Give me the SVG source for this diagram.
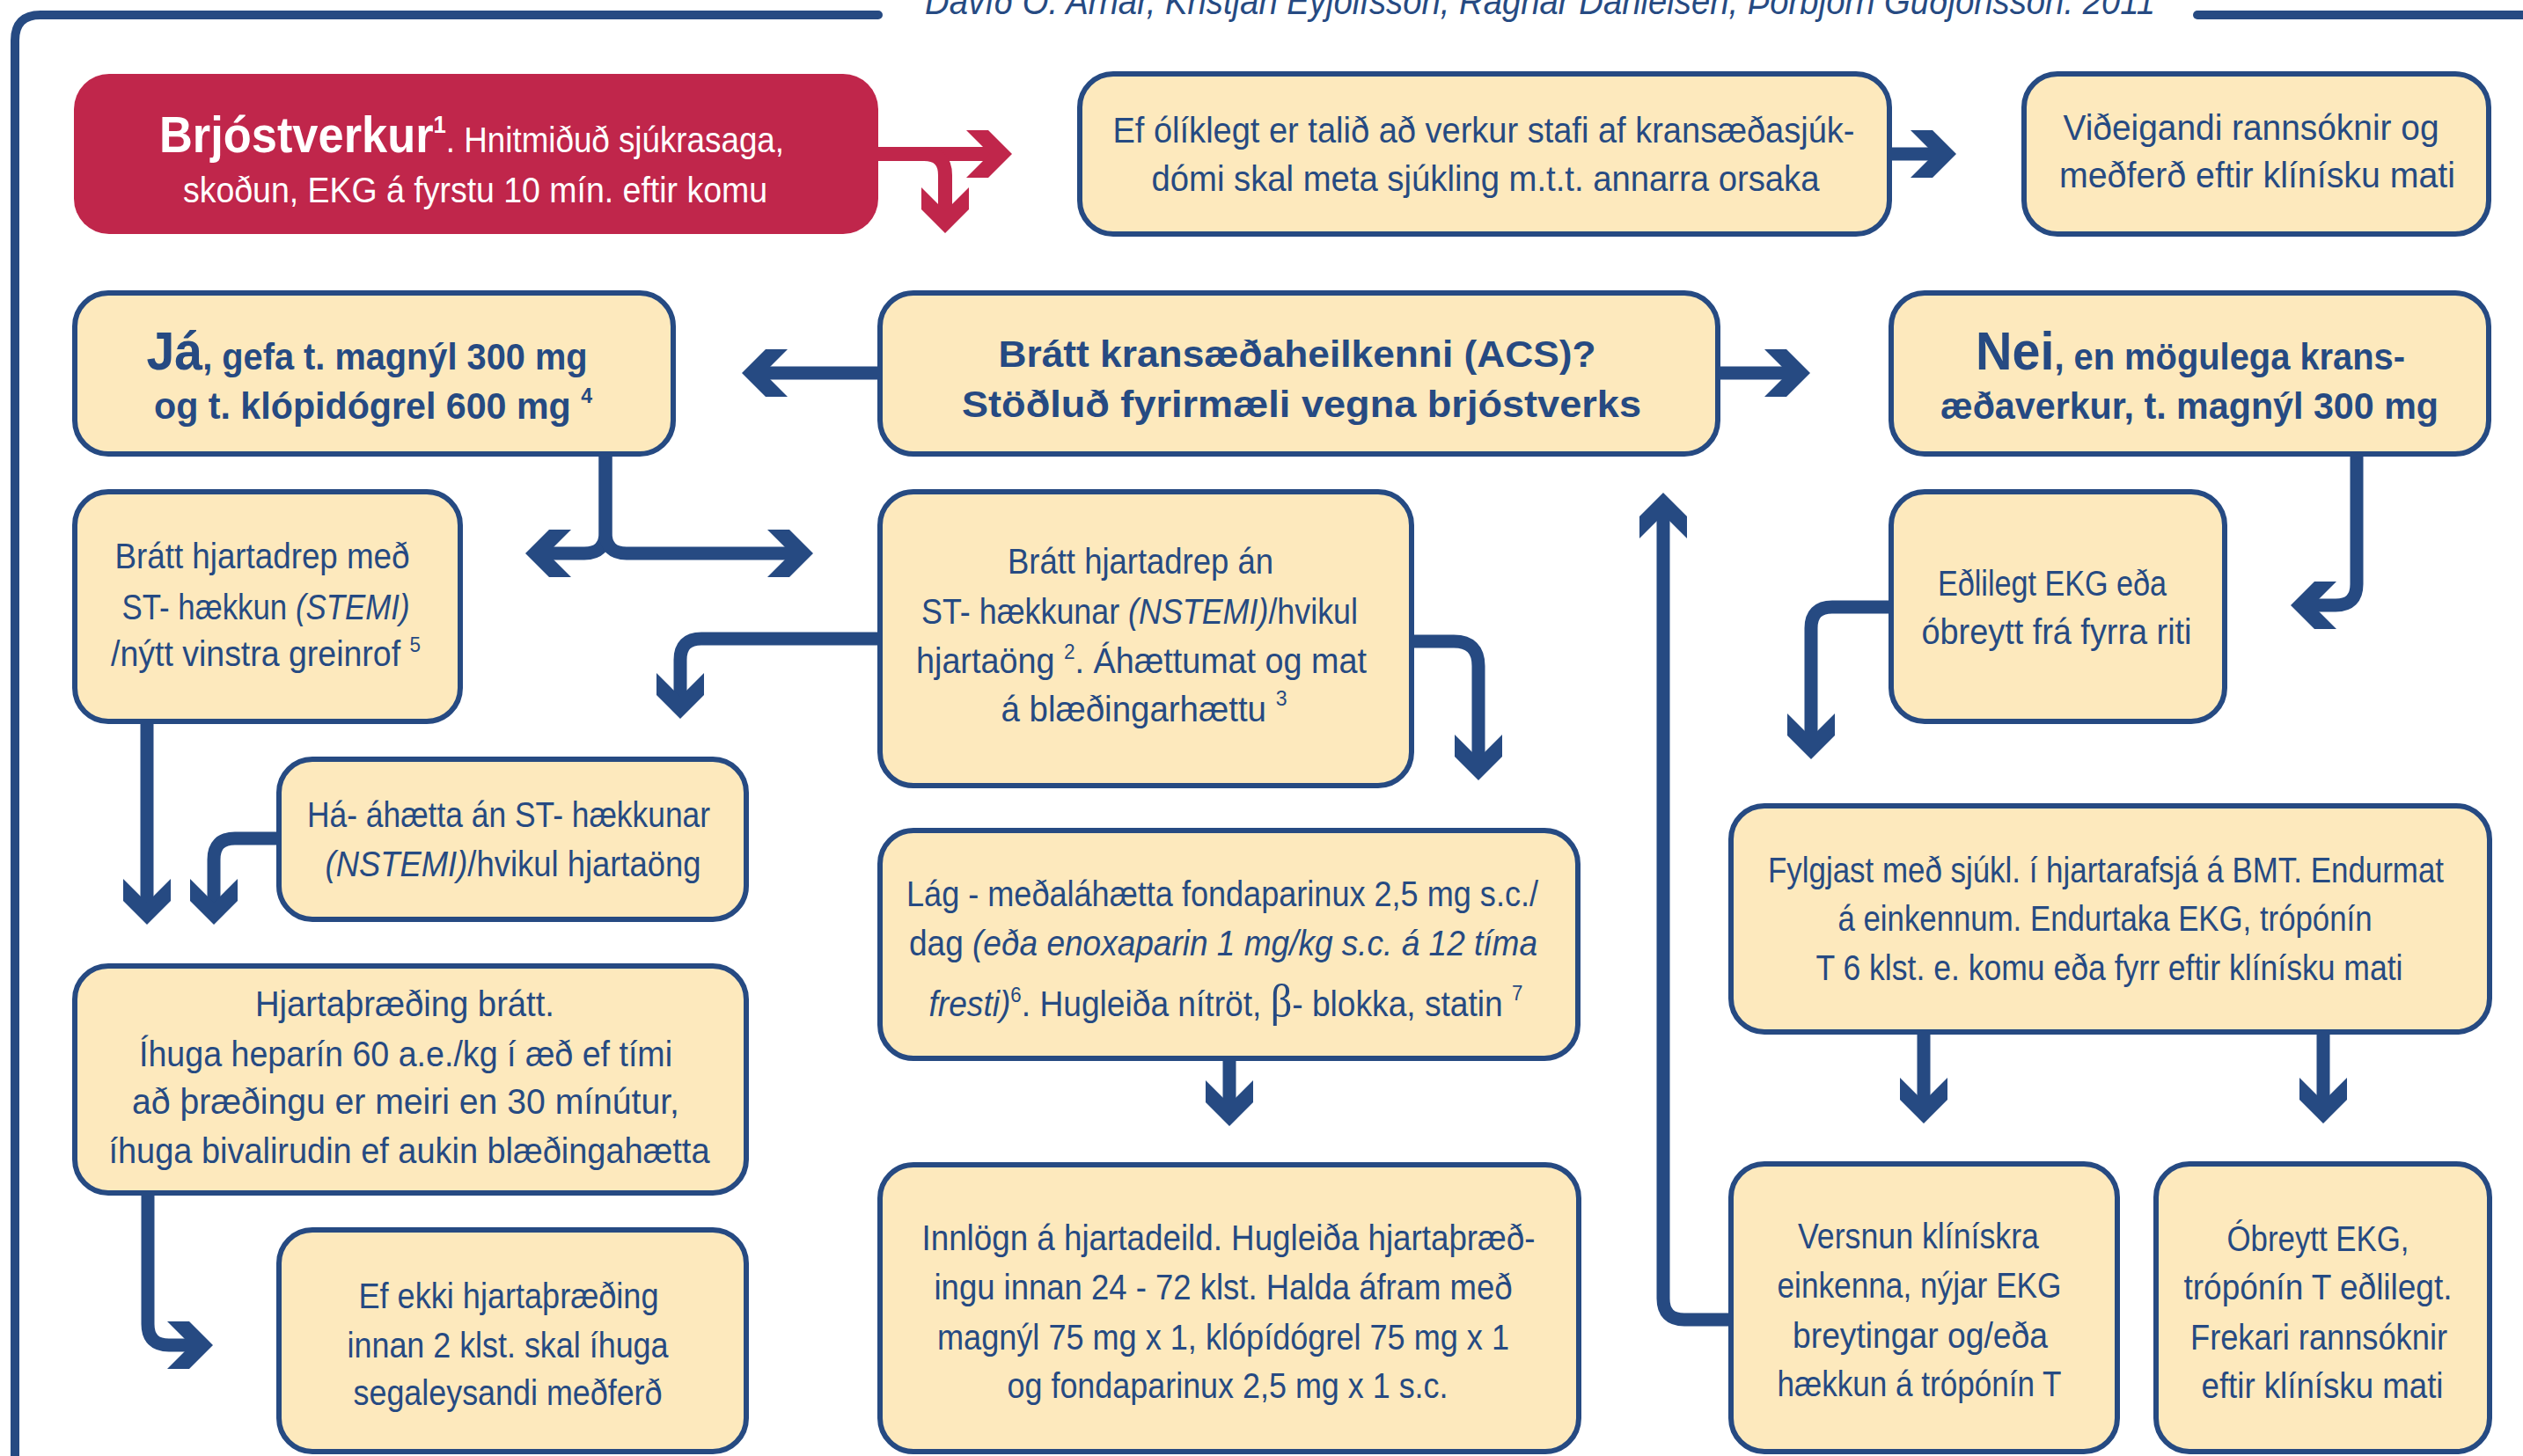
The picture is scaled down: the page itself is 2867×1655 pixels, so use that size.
<svg xmlns="http://www.w3.org/2000/svg" xmlns:xlink="http://www.w3.org/1999/xlink" width="2867" height="1655" viewBox="0 0 2867 1655">
<style>
.box{fill:#FDE9BD;stroke:#264A82;stroke-width:6}
.red{fill:#C0264B}
.t{font-family:"Liberation Sans Narrow","Liberation Sans",Arial,sans-serif;font-size:40px;fill:#264A82;text-anchor:middle}
.w{fill:#FFFFFF}
.b{font-weight:bold;font-size:43px}
.big{font-weight:bold;font-size:62px}
.i{font-style:italic}
.s{font-size:24px}
.conn{fill:none;stroke:#264A82;stroke-width:15}
.rconn{fill:none;stroke:#C0264B;stroke-width:16}
.frame{fill:none;stroke:#264A82;stroke-width:10;stroke-linecap:round}
.ah{fill:#264A82}
.rah{fill:#C0264B}
</style>
<defs>
<path id="chev" d="M0,0 L-27,-27 L-52,-27 L-25,0 L-52,27 L-27,27 Z"/>
</defs>
<rect width="2867" height="1655" fill="#FFFFFF"/>

<g id="frame">
<path class="frame" d="M17,1680 V46 Q17,17 46,17 H998"/>
<path class="frame" d="M2497,17 H2880"/>
<text class="t i" x="1750" y="16" font-size="42" textLength="1398" lengthAdjust="spacingAndGlyphs" style="font-size:42px">Davíð O. Arnar, Kristján Eyjólfsson, Ragnar Danielsen, Þorbjörn Guðjónsson. 2011</text>
</g>

<g id="connectors">
<path class="rconn" d="M998,175 H1138"/>
<use href="#chev" class="rah" transform="translate(1150,175)"/>
<path class="rconn" d="M1040,175 H1050 Q1074,175 1074,199 V253"/>
<use href="#chev" class="rah" transform="translate(1074,265) rotate(90)"/>

<path class="conn" d="M2147,175 H2211"/>
<use href="#chev" class="ah" transform="translate(2223,175)"/>

<path class="conn" d="M1000,424 H855"/>
<use href="#chev" class="ah" transform="translate(843,424) rotate(180)"/>
<path class="conn" d="M1952,424 H2045"/>
<use href="#chev" class="ah" transform="translate(2057,424)"/>

<path class="conn" d="M688,516 V605 Q688,629 664,629 H609"/>
<use href="#chev" class="ah" transform="translate(597,629) rotate(180)"/>
<path class="conn" d="M688,516 V605 Q688,629 712,629 H912"/>
<use href="#chev" class="ah" transform="translate(924,629)"/>

<path class="conn" d="M2678,516 V664 Q2678,688 2654,688 H2615"/>
<use href="#chev" class="ah" transform="translate(2603,688) rotate(180)"/>

<path class="conn" d="M2149,690 H2082 Q2058,690 2058,714 V851"/>
<use href="#chev" class="ah" transform="translate(2058,863) rotate(90)"/>

<path class="conn" d="M1000,726 H797 Q773,726 773,750 V805"/>
<use href="#chev" class="ah" transform="translate(773,817) rotate(90)"/>

<path class="conn" d="M1604,729 H1652 Q1680,729 1680,757 V875"/>
<use href="#chev" class="ah" transform="translate(1680,887) rotate(90)"/>

<path class="conn" d="M167,820 V1039"/>
<use href="#chev" class="ah" transform="translate(167,1051) rotate(90)"/>

<path class="conn" d="M317,953 H267 Q243,953 243,977 V1039"/>
<use href="#chev" class="ah" transform="translate(243,1051) rotate(90)"/>

<path class="conn" d="M168,1356 V1505 Q168,1529 192,1529 H230"/>
<use href="#chev" class="ah" transform="translate(242,1529)"/>

<path class="conn" d="M1397,1203 V1268"/>
<use href="#chev" class="ah" transform="translate(1397,1280) rotate(90)"/>

<path class="conn" d="M2186,1173 V1265"/>
<use href="#chev" class="ah" transform="translate(2186,1277) rotate(90)"/>
<path class="conn" d="M2640,1173 V1265"/>
<use href="#chev" class="ah" transform="translate(2640,1277) rotate(90)"/>

<path class="conn" d="M1967,1500 H1914 Q1890,1500 1890,1476 V572"/>
<use href="#chev" class="ah" transform="translate(1890,560) rotate(-90)"/>
</g>

<g id="n-brjostverkur">
<rect class="red" x="84" y="84" width="914" height="182" rx="40"/>
<text class="t w" x="536" y="173" textLength="710" lengthAdjust="spacingAndGlyphs"><tspan style="font-weight:bold;font-size:57px">Brjóstverkur</tspan><tspan style="font-weight:bold;font-size:28px" dy="-22">1</tspan><tspan dy="22">. Hnitmiðuð sjúkrasaga,</tspan></text>
<text class="t w" x="540" y="230" textLength="664" lengthAdjust="spacingAndGlyphs">skoðun, EKG á fyrstu 10 mín. eftir komu</text>
</g>

<g id="n-olíklegt">
<rect class="box" x="1227" y="84" width="920" height="182" rx="38"/>
<text class="t" x="1686" y="162" textLength="843" lengthAdjust="spacingAndGlyphs">Ef ólíklegt er talið að verkur stafi af kransæðasjúk-</text>
<text class="t" x="1688" y="217" textLength="759" lengthAdjust="spacingAndGlyphs">dómi skal meta sjúkling m.t.t. annarra orsaka</text>
</g>

<g id="n-videigandi">
<rect class="box" x="2300" y="84" width="528" height="182" rx="38"/>
<text class="t" x="2558" y="159" textLength="427" lengthAdjust="spacingAndGlyphs">Viðeigandi rannsóknir og</text>
<text class="t" x="2565" y="213" textLength="450" lengthAdjust="spacingAndGlyphs">meðferð eftir klínísku mati</text>
</g>

<g id="n-ja">
<rect class="box" x="85" y="333" width="680" height="183" rx="38"/>
<text class="t b" x="417" y="420" textLength="501" lengthAdjust="spacingAndGlyphs"><tspan class="big">Já</tspan>, gefa t. magnýl 300 mg</text>
<text class="t b" x="424" y="476" textLength="498" lengthAdjust="spacingAndGlyphs">og t. klópidógrel 600 mg <tspan class="s" dy="-18">4</tspan></text>
</g>

<g id="n-acs">
<rect class="box" x="1000" y="333" width="952" height="183" rx="38"/>
<text class="t b" x="1474" y="417" textLength="679" lengthAdjust="spacingAndGlyphs">Brátt kransæðaheilkenni (ACS)?</text>
<text class="t b" x="1479" y="474" textLength="772" lengthAdjust="spacingAndGlyphs">Stöðluð fyrirmæli vegna brjóstverks</text>
</g>

<g id="n-nei">
<rect class="box" x="2149" y="333" width="679" height="183" rx="38"/>
<text class="t b" x="2489" y="420" textLength="488" lengthAdjust="spacingAndGlyphs"><tspan class="big">Nei</tspan>, en mögulega krans-</text>
<text class="t b" x="2488" y="476" textLength="566" lengthAdjust="spacingAndGlyphs">æðaverkur, t. magnýl 300 mg</text>
</g>

<g id="n-stemi">
<rect class="box" x="85" y="559" width="438" height="261" rx="38"/>
<text class="t" x="298" y="646" textLength="335" lengthAdjust="spacingAndGlyphs">Brátt hjartadrep með</text>
<text class="t" x="302" y="704" textLength="327" lengthAdjust="spacingAndGlyphs">ST- hækkun <tspan class="i">(STEMI)</tspan></text>
<text class="t" x="302" y="757" textLength="352" lengthAdjust="spacingAndGlyphs">/nýtt vinstra greinrof <tspan class="s" dy="-16">5</tspan></text>
</g>

<g id="n-nstemi">
<rect class="box" x="1000" y="559" width="604" height="334" rx="38"/>
<text class="t" x="1296" y="652" textLength="302" lengthAdjust="spacingAndGlyphs">Brátt hjartadrep án</text>
<text class="t" x="1295" y="709" textLength="496" lengthAdjust="spacingAndGlyphs">ST- hækkunar <tspan class="i">(NSTEMI)</tspan>/hvikul</text>
<text class="t" x="1297" y="765" textLength="512" lengthAdjust="spacingAndGlyphs">hjartaöng <tspan class="s" dy="-16">2</tspan><tspan dy="16">.  Áhættumat og mat</tspan></text>
<text class="t" x="1300" y="820" textLength="325" lengthAdjust="spacingAndGlyphs">á blæðingarhættu <tspan class="s" dy="-18">3</tspan></text>
</g>

<g id="n-edlilegt">
<rect class="box" x="2149" y="559" width="379" height="261" rx="38"/>
<text class="t" x="2332" y="677" textLength="260" lengthAdjust="spacingAndGlyphs">Eðlilegt EKG eða</text>
<text class="t" x="2337" y="732" textLength="307" lengthAdjust="spacingAndGlyphs">óbreytt frá fyrra riti</text>
</g>

<g id="n-haahaetta">
<rect class="box" x="317" y="863" width="531" height="182" rx="38"/>
<text class="t" x="578" y="940" textLength="458" lengthAdjust="spacingAndGlyphs">Há- áhætta án ST- hækkunar</text>
<text class="t" x="583" y="996" textLength="427" lengthAdjust="spacingAndGlyphs"><tspan class="i">(NSTEMI)</tspan>/hvikul hjartaöng</text>
</g>

<g id="n-lag">
<rect class="box" x="1000" y="944" width="793" height="259" rx="38"/>
<text class="t" x="1389" y="1030" textLength="718" lengthAdjust="spacingAndGlyphs">Lág - meðaláhætta fondaparinux 2,5 mg s.c./</text>
<text class="t" x="1390" y="1086" textLength="714" lengthAdjust="spacingAndGlyphs">dag <tspan class="i">(eða enoxaparin 1 mg/kg s.c. á 12 tíma</tspan></text>
<text class="t" x="1393" y="1155" textLength="675" lengthAdjust="spacingAndGlyphs"><tspan class="i">fresti)</tspan><tspan class="s" dy="-16">6</tspan><tspan dy="16">. Hugleiða nítröt, </tspan><tspan style="font-family:'Liberation Serif',serif;font-size:52px">β</tspan>- blokka, statin <tspan class="s" dy="-18">7</tspan></text>
</g>

<g id="n-fylgjast">
<rect class="box" x="1967" y="916" width="862" height="257" rx="38"/>
<text class="t" x="2393" y="1003" textLength="768" lengthAdjust="spacingAndGlyphs">Fylgjast með sjúkl. í hjartarafsjá á BMT. Endurmat</text>
<text class="t" x="2392" y="1058" textLength="607" lengthAdjust="spacingAndGlyphs">á einkennum. Endurtaka EKG, trópónín</text>
<text class="t" x="2397" y="1114" textLength="667" lengthAdjust="spacingAndGlyphs">T 6 klst. e. komu eða fyrr eftir klínísku mati</text>
</g>

<g id="n-hjartathraeding">
<rect class="box" x="85" y="1098" width="763" height="258" rx="38"/>
<text class="t" x="460" y="1155" textLength="340" lengthAdjust="spacingAndGlyphs">Hjartaþræðing brátt.</text>
<text class="t" x="461" y="1212" textLength="606" lengthAdjust="spacingAndGlyphs">Íhuga heparín 60 a.e./kg í æð ef tími</text>
<text class="t" x="461" y="1266" textLength="622" lengthAdjust="spacingAndGlyphs">að þræðingu er meiri en  30 mínútur,</text>
<text class="t" x="465" y="1322" textLength="683" lengthAdjust="spacingAndGlyphs">íhuga bivalirudin ef aukin blæðingahætta</text>
</g>

<g id="n-efekki">
<rect class="box" x="317" y="1398" width="531" height="252" rx="38"/>
<text class="t" x="578" y="1487" textLength="341" lengthAdjust="spacingAndGlyphs">Ef ekki hjartaþræðing</text>
<text class="t" x="577" y="1543" textLength="365" lengthAdjust="spacingAndGlyphs">innan 2 klst. skal íhuga</text>
<text class="t" x="577" y="1597" textLength="351" lengthAdjust="spacingAndGlyphs">segaleysandi meðferð</text>
</g>

<g id="n-innlogn">
<rect class="box" x="1000" y="1324" width="794" height="326" rx="38"/>
<text class="t" x="1396" y="1421" textLength="697" lengthAdjust="spacingAndGlyphs">Innlögn á hjartadeild. Hugleiða hjartaþræð-</text>
<text class="t" x="1390" y="1477" textLength="657" lengthAdjust="spacingAndGlyphs">ingu innan 24 - 72 klst. Halda áfram með</text>
<text class="t" x="1390" y="1534" textLength="650" lengthAdjust="spacingAndGlyphs">magnýl 75 mg x 1, klópídógrel 75 mg x 1</text>
<text class="t" x="1395" y="1589" textLength="501" lengthAdjust="spacingAndGlyphs">og fondaparinux 2,5 mg x 1 s.c.</text>
</g>

<g id="n-versnun">
<rect class="box" x="1967" y="1323" width="439" height="327" rx="38"/>
<text class="t" x="2180" y="1419" textLength="274" lengthAdjust="spacingAndGlyphs">Versnun klínískra</text>
<text class="t" x="2181" y="1475" textLength="323" lengthAdjust="spacingAndGlyphs">einkenna, nýjar EKG</text>
<text class="t" x="2182" y="1532" textLength="290" lengthAdjust="spacingAndGlyphs">breytingar og/eða</text>
<text class="t" x="2181" y="1587" textLength="323" lengthAdjust="spacingAndGlyphs">hækkun á trópónín T</text>
</g>

<g id="n-obreytt">
<rect class="box" x="2450" y="1323" width="379" height="327" rx="38"/>
<text class="t" x="2634" y="1422" textLength="207" lengthAdjust="spacingAndGlyphs">Óbreytt EKG,</text>
<text class="t" x="2634" y="1477" textLength="305" lengthAdjust="spacingAndGlyphs">trópónín T eðlilegt.</text>
<text class="t" x="2635" y="1534" textLength="292" lengthAdjust="spacingAndGlyphs">Frekari rannsóknir</text>
<text class="t" x="2639" y="1589" textLength="275" lengthAdjust="spacingAndGlyphs">eftir klínísku mati</text>
</g>
</svg>
